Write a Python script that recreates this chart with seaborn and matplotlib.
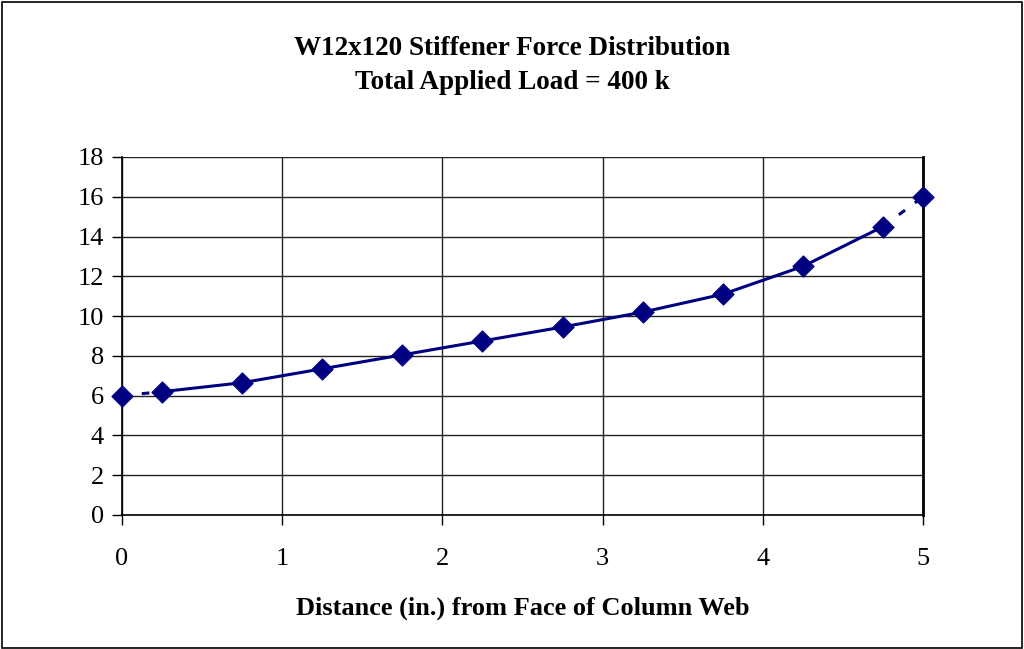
import matplotlib
matplotlib.use("Agg")
import matplotlib.pyplot as plt
import seaborn as sns
import pandas as pd
from matplotlib.patches import Rectangle

distance = [0.0, 0.25, 0.75, 1.25, 1.75, 2.25, 2.75, 3.25, 3.75, 4.25, 4.75, 5.0]
force = [6.0, 6.2, 6.65, 7.35, 8.05, 8.75, 9.45, 10.2, 11.1, 12.5, 14.5, 16.0]
x_ticks = [0, 1, 2, 3, 4, 5]
y_ticks = [0, 2, 4, 6, 8, 10, 12, 14, 16, 18]
title = "W12x120 Stiffener Force Distribution\nTotal Applied Load = 400 k"
xlabel = "Distance (in.) from Face of Column Web"

sns.set_theme(style="white")
plt.rcParams['font.family'] = ['Liberation Serif', 'DejaVu Serif']
plt.rcParams['text.color'] = 'black'
plt.rcParams['axes.labelcolor'] = 'black'
plt.rcParams['xtick.color'] = 'black'
plt.rcParams['ytick.color'] = 'black'

df = pd.DataFrame({"x": distance, "y": force})
fig = plt.figure(figsize=(10.24, 6.49), dpi=100)
ax = fig.add_axes([0.1191, 0.2065, 0.7823, 0.5516])

navy = "#000080"
solid = df.iloc[1:-1]
start = df.iloc[0:2]
end = df.iloc[-2:]
sns.lineplot(data=solid, x="x", y="y", ax=ax, color=navy, lw=2.2, zorder=3)
sns.lineplot(data=start, x="x", y="y", ax=ax, color=navy, lw=2.2, linestyle=(0, (2.5, 4)), zorder=3)
sns.lineplot(data=end, x="x", y="y", ax=ax, color=navy, lw=2.2, linestyle=(0, (2.5, 4)), zorder=3)
sns.scatterplot(data=df, x="x", y="y", ax=ax, color=navy, marker="D", s=115, edgecolor=navy, zorder=4, clip_on=False)

ax.set_xlim(0, 5)
ax.set_ylim(0, 18)
ax.set_xticks(x_ticks)
ax.set_yticks(y_ticks)
ax.grid(True, color="#222222", lw=1)
ax.set_axisbelow(True)
for s in ["left", "bottom"]:
    ax.spines[s].set_color("black")
    ax.spines[s].set_linewidth(1.2)
ax.spines["right"].set_color("black")
ax.spines["right"].set_linewidth(2)
ax.spines["top"].set_visible(False)
ax.tick_params(axis="y", which="both", left=True, length=7, width=1, color="black", labelsize=19, pad=6)
ax.tick_params(axis="x", which="both", bottom=True, length=7, width=1, color="black", labelsize=19, pad=17)
ax.set_xlabel(xlabel, fontsize=19, fontweight="bold", labelpad=19)
ax.set_ylabel("")
fig.suptitle(title, fontsize=19.5, fontweight="bold", y=0.944, linespacing=1.45)

fig.patches.append(Rectangle((0.002, 0.002), 0.996, 0.995, transform=fig.transFigure,
                             fill=False, edgecolor="black", lw=1.2))
fig.savefig("out.png", dpi=100)
